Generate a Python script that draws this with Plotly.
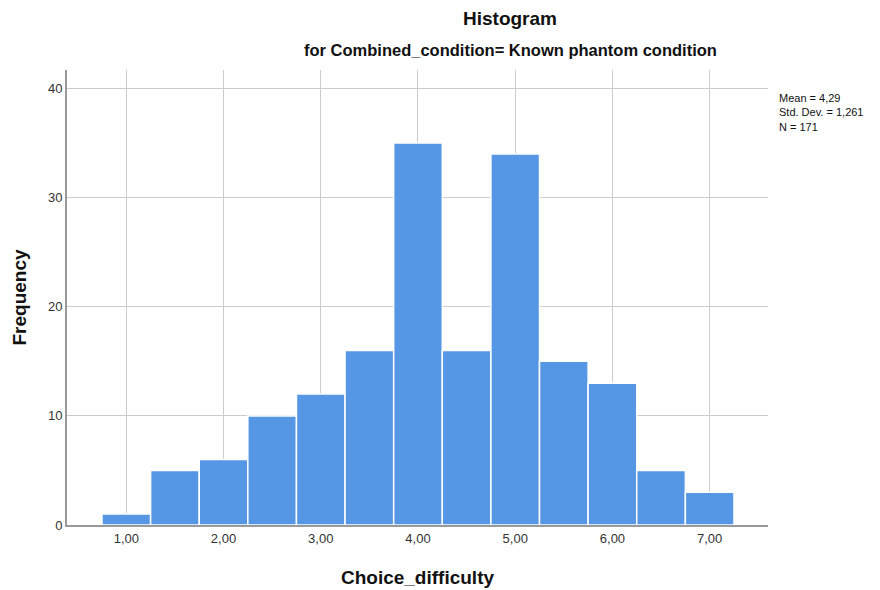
import plotly.graph_objects as go

bin_centers = [1.0, 1.5, 2.0, 2.5, 3.0, 3.5, 4.0, 4.5, 5.0, 5.5, 6.0, 6.5, 7.0]
frequencies = [1, 5, 6, 10, 12, 16, 35, 16, 34, 15, 13, 5, 3]
x_tick_vals = [1, 2, 3, 4, 5, 6, 7]
x_tick_text = ["1,00", "2,00", "3,00", "4,00", "5,00", "6,00", "7,00"]
y_tick_vals = [0, 10, 20, 30, 40]
stats_text = "Mean = 4,29<br>Std. Dev. = 1,261<br>N = 171"

FONT = "Liberation Sans, Arial, sans-serif"

fig = go.Figure()
fig.add_trace(go.Bar(
    x=bin_centers, y=frequencies, width=0.5,
    marker=dict(color="#5596E5", line=dict(color="white", width=1.5)),
    hoverinfo="x+y",
))

fig.update_layout(
    width=880, height=590,
    margin=dict(l=67, r=112, t=70, b=65),
    paper_bgcolor="white", plot_bgcolor="white",
    showlegend=False,
    font=dict(family=FONT, color="#222"),
    xaxis=dict(
        range=[0.39, 7.6], tickvals=x_tick_vals, ticktext=x_tick_text,
        showgrid=True, gridcolor="#CCCCCC", gridwidth=1,
        showline=True, linecolor="#999999", linewidth=2,
        ticks="", tickfont=dict(size=13, color="#333"), zeroline=False,
        automargin=False,
        title=dict(text="<b>Choice_difficulty</b>", font=dict(size=19, color="#111"), standoff=26),
    ),
    yaxis=dict(
        range=[0, 41.7], tickvals=y_tick_vals,
        showgrid=True, gridcolor="#CCCCCC", gridwidth=1,
        showline=True, linecolor="#999999", linewidth=2,
        ticks="", tickfont=dict(size=13, color="#333"), zeroline=False,
        automargin=False,
        title=dict(text="<b>Frequency</b>", font=dict(size=19, color="#111"), standoff=16),
    ),
    annotations=[
        dict(text="<b>Histogram</b>", xref="paper", yref="paper", x=0.632, y=1,
             yshift=52, xanchor="center", yanchor="middle", showarrow=False,
             font=dict(size=19, color="#111")),
        dict(text="<b>for Combined_condition= Known phantom condition</b>", xref="paper", yref="paper",
             x=0.632, y=1, yshift=20, xanchor="center", yanchor="middle", showarrow=False,
             font=dict(size=16.5, color="#111")),
        dict(text=stats_text, xref="paper", yref="paper", x=1, xshift=9, y=0.955,
             xanchor="left", yanchor="top", align="left", showarrow=False,
             font=dict(size=11, color="#111")),
    ],
)

fig.write_html("out.html")
